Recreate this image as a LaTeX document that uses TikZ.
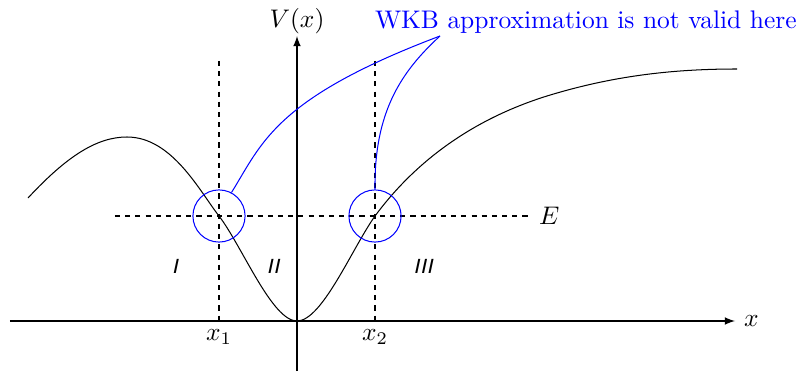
\documentclass[tikz,border=0pt]{standalone}
\begin{document}
\begin{tikzpicture}[
    x=0.69cm, y=0.69cm,
    guide/.style={dash pattern=on 2pt off 2pt},
    axis/.style={-latex},
    zone/.style={font=\footnotesize\sffamily\itshape},
    tpoint/.style={circle, draw=blue, inner sep=0pt, minimum size=0.72cm},
    note/.style={blue}
]
    \useasboundingbox (-5.94,-1.02) rectangle (10.02,6.42);

    % Coordinates
    \coordinate (xstart) at (-5.74,0);
    \coordinate (xend) at (8.76,0);
    \coordinate (vstart) at (0,-1.0);
    \coordinate (vend) at (0,5.7);
    \coordinate (x1) at (-1.56,0);
    \coordinate (x2) at (1.56,0);
    \coordinate (x1top) at (-1.56,5.2);
    \coordinate (x2top) at (1.56,5.2);
    \coordinate (Eleft) at (-3.64,2.1);
    \coordinate (Eright) at (4.66,2.1);
    \coordinate (tip) at (2.86,5.7);

    % Dashed guides
    \draw[guide] (Eleft) -- (Eright) node[right] (elabel) {$E$};
    \draw[guide] (x1top) -- (x1);
    \draw[guide] (x2top) -- (x2);

    % Potential
    \draw (-5.38,2.46) .. controls (-4.6,3.3) and (-4.0,3.68) .. (-3.4,3.68)
        .. controls (-2.5,3.68) and (-1.95,2.6) .. (-1.56,2.1)
        .. controls (-1.1,1.5) and (-0.5,0) .. (0,0)
        .. controls (0.5,0) and (1.1,1.45) .. (1.56,2.1)
        .. controls (2.3,3.1) and (3.4,4.0) .. (5.0,4.5)
        .. controls (6.3,4.9) and (7.5,5.04) .. (8.8,5.04);

    % Turning points
    \node[tpoint] (tp1) at (-1.56,2.1) {};
    \node[tpoint] (tp2) at (1.56,2.1) {};

    % Axes
    \draw[axis] (xstart) -- (xend) node[right] (xlabel) {$x$};
    \draw[axis] (vstart) -- (vend);
    \node[anchor=base] (vlabel) at (0,5.86) {$V(x)$};
    \node[below] (x1label) at (x1) {$x_1$};
    \node[below] (x2label) at (x2) {$x_2$};

    % Regions
    \node[zone] (reg1) at (-2.44,1.1) {I};
    \node[zone] (reg2) at (-0.48,1.1) {II};
    \node[zone] (reg3) at (2.52,1.1) {III};

    % WKB note
    \node[note, anchor=base west] (wkb) at (1.38,5.84) {WKB approximation is not valid here};
    \draw[note] (tp1.62) .. controls (-0.7,3.55) and (-0.45,4.45) .. (tip);
    \draw[note] (tp2.north) .. controls (1.54,4.2) and (2.1,5.0) .. (tip);

\end{tikzpicture}
\end{document}
